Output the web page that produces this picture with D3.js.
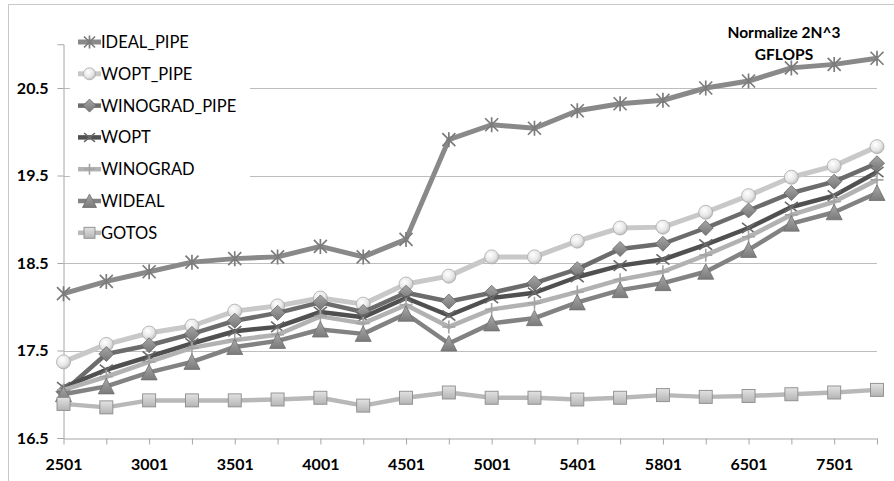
<!DOCTYPE html>
<html>
<head>
<meta charset="utf-8">
<script src="https://cdn.jsdelivr.net/npm/d3@7"></script>
<style>
  html, body { margin: 0; padding: 0; background: #ffffff; }
  svg { display: block; font-family: Lato, "Open Sans", sans-serif; }
</style>
</head>
<body>
<svg id="chart" width="894" height="481"></svg>
<script>
// Matrix sizes (only every second one is labelled on the axis)
const categories = ["2501", "2751", "3001", "3251", "3501", "3751", "4001", "4251", "4501", "4751",
                    "5001", "5201", "5401", "5601", "5801", "6001", "6501", "7001", "7501", "8001"];

// Normalized 2N^3 GFLOPS per implementation
const idealPipe    = [18.15, 18.29, 18.40, 18.51, 18.55, 18.57, 18.69, 18.57, 18.77, 19.91,
                      20.08, 20.04, 20.24, 20.32, 20.36, 20.50, 20.58, 20.73, 20.77, 20.84];
const woptPipe     = [17.37, 17.57, 17.70, 17.78, 17.95, 18.01, 18.10, 18.03, 18.26, 18.35,
                      18.57, 18.57, 18.75, 18.90, 18.91, 19.08, 19.27, 19.48, 19.61, 19.83];
const winogradPipe = [17.03, 17.46, 17.56, 17.69, 17.84, 17.93, 18.05, 17.94, 18.16, 18.06,
                      18.16, 18.27, 18.43, 18.66, 18.72, 18.90, 19.10, 19.30, 19.43, 19.64];
const wopt         = [17.08, 17.28, 17.43, 17.58, 17.72, 17.77, 17.94, 17.88, 18.10, 17.90,
                      18.10, 18.16, 18.34, 18.47, 18.54, 18.71, 18.90, 19.14, 19.27, 19.54];
const winograd     = [17.05, 17.20, 17.37, 17.53, 17.62, 17.68, 17.89, 17.81, 18.02, 17.77,
                      17.97, 18.04, 18.17, 18.31, 18.40, 18.59, 18.80, 19.05, 19.20, 19.45];
const wideal       = [17.00, 17.09, 17.25, 17.37, 17.54, 17.61, 17.74, 17.69, 17.92, 17.58,
                      17.81, 17.87, 18.05, 18.19, 18.27, 18.40, 18.65, 18.95, 19.08, 19.30];
const gotos        = [16.89, 16.85, 16.93, 16.93, 16.93, 16.94, 16.96, 16.87, 16.96, 17.02,
                      16.96, 16.96, 16.94, 16.96, 16.99, 16.97, 16.98, 17.00, 17.02, 17.05];

const seriesNames = ["IDEAL_PIPE", "WOPT_PIPE", "WINOGRAD_PIPE", "WOPT", "WINOGRAD", "WIDEAL", "GOTOS"];
const seriesValues = [idealPipe, woptPipe, winogradPipe, wopt, winograd, wideal, gotos];

const yTicks = [16.5, 17.5, 18.5, 19.5, 20.5];
const titleLines = ["Normalize 2N^3", "GFLOPS"];

// Styling per series
const styles = {
  "IDEAL_PIPE":    { line: "#898989", width: 5,   marker: "star",     fill: "#7c7c7c" },
  "WOPT_PIPE":     { line: "#c8c8c8", width: 5,   marker: "circle",   fill: "url(#gCircle)" },
  "WINOGRAD_PIPE": { line: "#6c6c6c", width: 4.5, marker: "diamond",  fill: "url(#gDiamond)" },
  "WOPT":          { line: "#505050", width: 4.5, marker: "x",        fill: "#6a6a6a" },
  "WINOGRAD":      { line: "#b2b2b2", width: 4.5, marker: "plus",     fill: "#a4a4a4" },
  "WIDEAL":        { line: "#828282", width: 4.5, marker: "triangle", fill: "url(#gTriangle)" },
  "GOTOS":         { line: "#b8b8b8", width: 4.5, marker: "square",   fill: "url(#gSquare)" }
};

const svg = d3.select("#chart");

// Gradients for the shaded markers
const defs = svg.append("defs");
function linGrad(id, top, bottom) {
  const g = defs.append("linearGradient").attr("id", id)
    .attr("x1", 0).attr("y1", 0).attr("x2", 0).attr("y2", 1);
  g.append("stop").attr("offset", "0%").attr("stop-color", top);
  g.append("stop").attr("offset", "100%").attr("stop-color", bottom);
}
const rg = defs.append("radialGradient").attr("id", "gCircle")
  .attr("cx", "40%").attr("cy", "35%").attr("r", "70%");
rg.append("stop").attr("offset", "0%").attr("stop-color", "#ffffff");
rg.append("stop").attr("offset", "60%").attr("stop-color", "#e6e6e6");
rg.append("stop").attr("offset", "100%").attr("stop-color", "#b8b8b8");
linGrad("gDiamond", "#a6a6a6", "#767676");
linGrad("gTriangle", "#a8a8a8", "#7a7a7a");
linGrad("gSquare", "#e2e2e2", "#b4b4b4");

// Chart area frame (top and left edges visible)
svg.append("rect").attr("x", 8.5).attr("y", 4.5).attr("width", 900).attr("height", 500)
  .attr("fill", "none").attr("stroke", "#c8c8c8").attr("stroke-width", 1);

// Scales
const x = d3.scalePoint().domain(categories).range([63.5, 877]);
const y = d3.scaleLinear().domain([16.5, 21]).range([438, 44.25]);

// Horizontal gridlines
svg.append("g").selectAll("line").data(yTicks.slice(1)).join("line")
  .attr("x1", 63.5).attr("x2", 877)
  .attr("y1", d => Math.round(y(d)) + 0.5).attr("y2", d => Math.round(y(d)) + 0.5)
  .attr("stroke", "#bdbdbd").attr("stroke-width", 1);

// Y axis
const yAxis = svg.append("g").attr("transform", "translate(63.5,0)")
  .call(d3.axisLeft(y).tickValues(yTicks).tickFormat(d3.format(".1f")).tickSize(6).tickPadding(9));
yAxis.select(".domain").attr("stroke", "#a6a6a6");
yAxis.selectAll(".tick line").attr("stroke", "#a6a6a6");
yAxis.selectAll(".tick text").attr("font-size", 16).attr("font-weight", "bold")
  .attr("fill", "#000").attr("font-family", "Lato, sans-serif");

// X axis (a tick for every category, a label for every second one)
const xAxis = svg.append("g").attr("transform", `translate(0,${y(16.5) + 0.5})`)
  .call(d3.axisBottom(x).tickSize(6).tickSizeOuter(0).tickPadding(14)
    .tickFormat((d, i) => i % 2 === 0 ? d : ""));
xAxis.select(".domain").attr("stroke", "#a6a6a6");
xAxis.selectAll(".tick line").attr("stroke", "#a6a6a6");
xAxis.selectAll(".tick text").attr("font-size", 16).attr("font-weight", "bold")
  .attr("fill", "#000").attr("font-family", "Lato, sans-serif");

// Marker drawing
function drawMarker(g, type, fill, stroke, s) {
  const r = s / 2;
  switch (type) {
    case "circle":
      g.append("circle").attr("r", r + 0.5).attr("fill", fill).attr("stroke", "#a9a9a9").attr("stroke-width", 0.8);
      break;
    case "diamond":
      g.append("path").attr("d", `M0,${-r - 1}L${r + 1},0L0,${r + 1}L${-r - 1},0Z`)
        .attr("fill", fill).attr("stroke", "#666").attr("stroke-width", 0.8);
      break;
    case "triangle":
      g.append("path").attr("d", `M0,${-r - 1.5}L${r + 1.5},${r + 1}L${-r - 1.5},${r + 1}Z`)
        .attr("fill", fill).attr("stroke", "#6e6e6e").attr("stroke-width", 0.8);
      break;
    case "square":
      g.append("rect").attr("x", -r).attr("y", -r).attr("width", s).attr("height", s)
        .attr("fill", fill).attr("stroke", "#8c8c8c").attr("stroke-width", 0.9);
      break;
    case "star":
      g.append("path").attr("d", `M${-r},${-r}L${r},${r}M${-r},${r}L${r},${-r}M0,${-r - 1}L0,${r + 1}`)
        .attr("stroke", fill).attr("stroke-width", 1.7).attr("fill", "none");
      break;
    case "x":
      g.append("path").attr("d", `M${-r},${-r * 0.8}L${r},${r * 0.8}M${-r},${r * 0.8}L${r},${-r * 0.8}`)
        .attr("stroke", fill).attr("stroke-width", 1.6).attr("fill", "none");
      break;
    case "plus":
      g.append("path").attr("d", `M${-r},0L${r},0M0,${-r}L0,${r}`)
        .attr("stroke", fill).attr("stroke-width", 1.6).attr("fill", "none");
      break;
  }
}

// Series: line, then markers, in series order
const line = d3.line().x((d, i) => x(categories[i])).y(d => y(d));
const plot = svg.append("g");
seriesNames.forEach((name, k) => {
  const st = styles[name];
  const vals = seriesValues[k];
  plot.append("path").datum(vals).attr("d", line)
    .attr("fill", "none").attr("stroke", st.line).attr("stroke-width", st.width)
    .attr("stroke-linejoin", "round");
  vals.forEach((v, i) => {
    const m = plot.append("g").attr("transform", `translate(${x(categories[i])},${y(v)})`);
    drawMarker(m, st.marker, st.fill, st.line, 13);
  });
});

// Legend (opaque box over the upper-left of the plot)
const legend = svg.append("g");
legend.append("rect").attr("x", 70).attr("y", 26).attr("width", 180).attr("height", 222).attr("fill", "#ffffff");
seriesNames.forEach((name, k) => {
  const st = styles[name];
  const ly = 42 + k * 31.8;
  const lg = legend.append("g").attr("transform", `translate(0,${ly})`);
  lg.append("line").attr("x1", 78).attr("x2", 101).attr("y1", 0).attr("y2", 0)
    .attr("stroke", st.line).attr("stroke-width", st.width);
  drawMarker(lg.append("g").attr("transform", "translate(89.5,0)"), st.marker, st.fill, st.line, 11);
  lg.append("text").attr("x", 101).attr("y", 6).attr("font-size", 16.5)
    .attr("fill", "#000").text(name);
});

// Title
const title = svg.append("text").attr("x", 784).attr("font-size", 15.5).attr("font-weight", "bold")
  .attr("text-anchor", "middle").attr("fill", "#000");
titleLines.forEach((t, i) => {
  title.append("tspan").attr("x", 784).attr("y", 38 + i * 22).text(t);
});
</script>
</body>
</html>
